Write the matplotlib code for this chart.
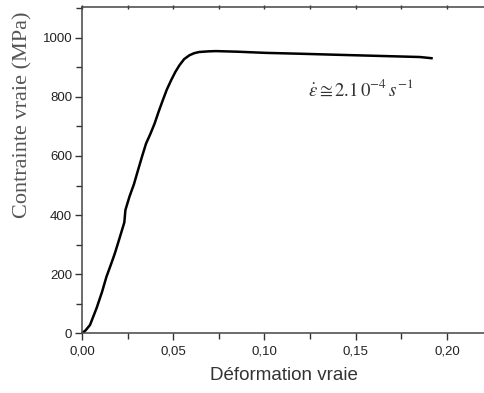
import matplotlib
matplotlib.use("Agg")
import matplotlib.pyplot as plt
from matplotlib.ticker import MultipleLocator, FuncFormatter

# True strain / true stress curve
strain = [0.0, 0.0020, 0.0044, 0.0080, 0.0110, 0.0134, 0.0160, 0.0180, 0.0205,
          0.0232, 0.0238, 0.0260, 0.0285, 0.0307, 0.0330, 0.0351, 0.0375, 0.0398,
          0.0420, 0.0443, 0.0465, 0.0489, 0.0512, 0.0534, 0.0560, 0.0589, 0.0615,
          0.0643, 0.0690, 0.0734, 0.0850, 0.1006, 0.1200, 0.1370, 0.1550, 0.1730,
          0.1850, 0.1915]
stress = [0, 10, 28, 85, 140, 191, 235, 270, 320,
          375, 417, 462, 505, 552, 600, 642, 675, 710,
          750, 789, 825, 857, 885, 907, 928, 941, 948,
          952, 954, 955, 953, 949, 946, 943, 940, 937,
          935, 931]

x_ticks = [0.00, 0.05, 0.10, 0.15, 0.20]
y_ticks = [0, 200, 400, 600, 800, 1000]

plt.rcParams['mathtext.fontset'] = 'stix'

fig = plt.figure(figsize=(4.85, 3.93), dpi=100)
ax = fig.add_axes([0.169, 0.152, 0.831, 0.830])

ax.plot(strain, stress, color='black', lw=1.8)

ax.set_xlim(0.0, 0.2208)
ax.set_ylim(0, 1104)

ax.set_xticks(x_ticks)
ax.set_yticks(y_ticks)
ax.xaxis.set_minor_locator(MultipleLocator(0.025))
ax.yaxis.set_minor_locator(MultipleLocator(100))
ax.xaxis.set_major_formatter(FuncFormatter(lambda v, p: f"{v:.2f}".replace('.', ',')))

ax.tick_params(axis='both', which='major', direction='out', length=5, width=1,
               labelsize=9.5, colors='#333333', labelcolor='#222222')
ax.tick_params(axis='both', which='minor', direction='out', length=4, width=1,
               colors='#333333')
ax.tick_params(axis='x', which='both', top=True, pad=4)
ax.tick_params(axis='y', which='both', pad=2)
for lab in ax.get_xticklabels() + ax.get_yticklabels():
    lab.set_fontfamily('Liberation Sans')

ax.spines['right'].set_visible(False)
for s in ['left', 'bottom', 'top']:
    ax.spines[s].set_color('#444444')
    ax.spines[s].set_linewidth(1.1)

# top ticks: small marks crossing the spine
for t in ax.xaxis.get_major_ticks() + ax.xaxis.get_minor_ticks():
    t.tick2line.set_markersize(3)
    t.tick2line.set_marker('|')

ax.set_xlabel('Déformation vraie', fontfamily='Liberation Sans', fontsize=13.5,
              color='#333333', labelpad=7)
ax.set_ylabel('Contrainte vraie (MPa)', fontfamily='Liberation Serif', fontsize=16,
              color='#555555')
ax.yaxis.set_label_coords(-0.122, 0.67)

ax.text(0.124, 823, r'$\dot{\varepsilon}\cong 2.1\,0^{-4}\,s^{-1}$', fontsize=13.5,
        color='#333333', ha='left', va='center')

fig.savefig('out.png', dpi=100)
